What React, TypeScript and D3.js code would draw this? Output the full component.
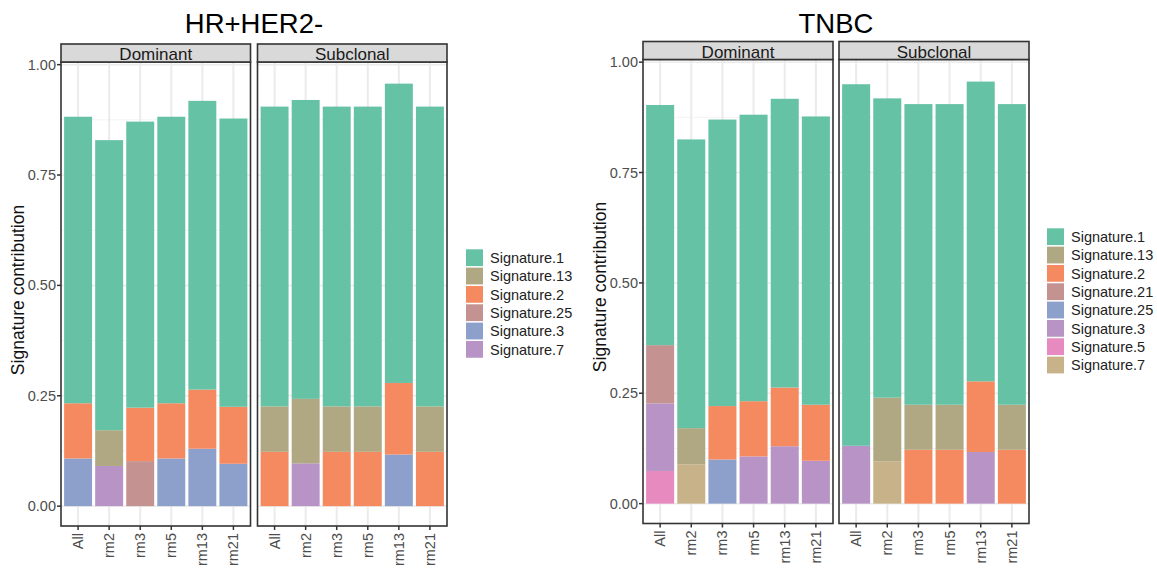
import React from 'react';
import * as d3 from 'd3';

const samples = ['All', 'rm2', 'rm3', 'rm5', 'rm13', 'rm21'];
const facets = ['Dominant', 'Subclonal'];
const yTicks = [0, 0.25, 0.5, 0.75, 1];
const yMinor = [0.125, 0.375, 0.625, 0.875];

// HR+HER2- : 12 values per signature (Dominant samples, then Subclonal samples)
const hrSignatures = ['Signature.1', 'Signature.13', 'Signature.2', 'Signature.25', 'Signature.3', 'Signature.7'];
const hrColors = ['#66C2A5', '#B0A882', '#F58A61', '#C49290', '#8CA0CB', '#B794C5'];
const hrSig1 = [0.649, 0.657, 0.648, 0.649, 0.654, 0.653, 0.679, 0.677, 0.679, 0.679, 0.678, 0.679];
const hrSig13 = [0, 0.081, 0, 0, 0, 0, 0.103, 0.146, 0.103, 0.103, 0, 0.103];
const hrSig2 = [0.125, 0, 0.121, 0.125, 0.134, 0.129, 0.123, 0, 0.123, 0.123, 0.162, 0.123];
const hrSig25 = [0, 0, 0.102, 0, 0, 0, 0, 0, 0, 0, 0, 0];
const hrSig3 = [0.108, 0, 0, 0.108, 0.13, 0.096, 0, 0, 0, 0, 0.117, 0];
const hrSig7 = [0, 0.091, 0, 0, 0, 0, 0, 0.097, 0, 0, 0, 0];

// TNBC
const tnSignatures = ['Signature.1', 'Signature.13', 'Signature.2', 'Signature.21', 'Signature.25', 'Signature.3', 'Signature.5', 'Signature.7'];
const tnColors = ['#66C2A5', '#B0A882', '#F58A61', '#C49290', '#8CA0CB', '#B794C5', '#E68AC0', '#C8B28A'];
const tnSig1 = [0.544, 0.654, 0.649, 0.649, 0.654, 0.653, 0.819, 0.678, 0.681, 0.681, 0.679, 0.681];
const tnSig13 = [0, 0.082, 0, 0, 0, 0, 0, 0.144, 0.102, 0.102, 0, 0.102];
const tnSig2 = [0, 0, 0.121, 0.125, 0.133, 0.127, 0, 0, 0.122, 0.122, 0.16, 0.122];
const tnSig21 = [0.132, 0, 0, 0, 0, 0, 0, 0, 0, 0, 0, 0];
const tnSig25 = [0, 0, 0.1, 0, 0, 0, 0, 0, 0, 0, 0, 0];
const tnSig3 = [0.153, 0, 0, 0.107, 0.13, 0.097, 0.131, 0, 0, 0, 0.117, 0];
const tnSig5 = [0.074, 0, 0, 0, 0, 0, 0, 0, 0, 0, 0, 0];
const tnSig7 = [0, 0.089, 0, 0, 0, 0, 0, 0.096, 0, 0, 0, 0];

const FONT = '"Liberation Sans", Arial, sans-serif';

interface Layout {
  panelX: number[];
  panelW: number;
  stripTop: number;
  panelTop: number;
  panelBottom: number;
  titleX: number;
  yTitleX: number;
  yTitleY: number;
  legendX: number;
  legendTop: number;
}

const hrLayout: Layout = {
  panelX: [61, 257.5], panelW: 189.5, stripTop: 44, panelTop: 62, panelBottom: 526,
  titleX: 254, yTitleX: 18, yTitleY: 290, legendX: 466, legendTop: 249.3,
};
const tnLayout: Layout = {
  panelX: [643, 839], panelW: 190, stripTop: 41.5, panelTop: 59.5, panelBottom: 523.5,
  titleX: 836, yTitleX: 600, yTitleY: 287, legendX: 1047, legendTop: 228.3,
};

interface ChartProps {
  title: string;
  signatures: string[];
  colors: string[];
  series: number[][];
  layout: Layout;
}

const Chart: React.FC<ChartProps> = ({ title, signatures, colors, series, layout: L }) => {
  const y = d3.scaleLinear().domain([-0.045, 1.006]).range([L.panelBottom, L.panelTop]);
  const color = d3.scaleOrdinal<string, string>().domain(signatures).range(colors);

  const rows = facets.map((f, fi) =>
    samples.map((s, si) => {
      const r: any = { sample: s };
      signatures.forEach((k, ki) => { r[k] = series[ki][fi * samples.length + si]; });
      return r;
    })
  );
  // first level sits on top, as ggplot stacks
  const stack = d3.stack<any>().keys([...signatures].reverse());

  return (
    <g>
      <text x={L.titleX} y={33} textAnchor="middle" fontSize={27.5} fill="#000">{title}</text>
      <text transform={`translate(${L.yTitleX},${L.yTitleY}) rotate(-90)`} textAnchor="middle"
        dominantBaseline="central" fontSize={17.5} fill="#111">Signature contribution</text>

      {facets.map((f, fi) => {
        const x0 = L.panelX[fi];
        const x = d3.scaleBand<string>().domain(samples).range([x0, x0 + L.panelW])
          .paddingInner(0.1).paddingOuter(0.1);
        const layers = stack(rows[fi]);
        return (
          <g key={f}>
            <rect x={x0} y={L.panelTop} width={L.panelW} height={L.panelBottom - L.panelTop} fill="#fff" />
            {yMinor.map(t => (
              <line key={'m' + t} x1={x0} x2={x0 + L.panelW} y1={y(t)} y2={y(t)} stroke="#f3f3f3" strokeWidth={1} />
            ))}
            {yTicks.map(t => (
              <line key={'g' + t} x1={x0} x2={x0 + L.panelW} y1={y(t)} y2={y(t)} stroke="#ebebeb" strokeWidth={1.5} />
            ))}
            {samples.map(s => (
              <line key={'v' + s} x1={x(s)! + x.bandwidth() / 2} x2={x(s)! + x.bandwidth() / 2}
                y1={L.panelTop} y2={L.panelBottom} stroke="#ebebeb" strokeWidth={2} />
            ))}
            {layers.map(layer => (
              <g key={layer.key} fill={color(layer.key)}>
                {layer.map((d, i) => d[1] - d[0] > 0 ? (
                  <rect key={i} x={x(d.data.sample)} width={x.bandwidth()}
                    y={y(d[1])} height={y(d[0]) - y(d[1])} />
                ) : null)}
              </g>
            ))}
            <rect x={x0} y={L.panelTop} width={L.panelW} height={L.panelBottom - L.panelTop}
              fill="none" stroke="#333" strokeWidth={1.6} />
            <rect x={x0} y={L.stripTop} width={L.panelW} height={L.panelTop - L.stripTop}
              fill="#d9d9d9" stroke="#333" strokeWidth={1.6} />
            <text x={x0 + L.panelW / 2} y={(L.stripTop + L.panelTop) / 2 + 1.5} textAnchor="middle"
              dominantBaseline="central" fontSize={17} fill="#1a1a1a">{f}</text>
            {samples.map(s => {
              const cx = x(s)! + x.bandwidth() / 2;
              return (
                <g key={'t' + s}>
                  <line x1={cx} x2={cx} y1={L.panelBottom} y2={L.panelBottom + 4} stroke="#333" strokeWidth={1.5} />
                  <text transform={`translate(${cx},${L.panelBottom + 7}) rotate(-90)`} textAnchor="end"
                    dominantBaseline="central" fontSize={14.5} fill="#4d4d4d">{s}</text>
                </g>
              );
            })}
            {fi === 0 && yTicks.map(t => (
              <g key={'yt' + t}>
                <line x1={x0 - 4} x2={x0} y1={y(t)} y2={y(t)} stroke="#333" strokeWidth={1.5} />
                <text x={x0 - 5} y={y(t)} textAnchor="end" dominantBaseline="central" fontSize={14.5}
                  fill="#4d4d4d">{d3.format('.2f')(t)}</text>
              </g>
            ))}
          </g>
        );
      })}

      {signatures.map((s, i) => {
        const ty = L.legendTop + i * 18.33;
        return (
          <g key={'lg' + s}>
            <rect x={L.legendX} y={ty} width={17} height={16.8} fill={color(s)} />
            <text x={L.legendX + 24} y={ty + 8.6} dominantBaseline="central" fontSize={14.5} fill="#222">{s}</text>
          </g>
        );
      })}
    </g>
  );
};

export default function App() {
  return (
    <svg width={1157} height={571} style={{ position: 'absolute', left: 0, top: 0, background: '#fff' }}
      fontFamily={FONT}>
      <rect width={1157} height={571} fill="#fff" />
      <Chart title="HR+HER2-" signatures={hrSignatures} colors={hrColors}
        series={[hrSig1, hrSig13, hrSig2, hrSig25, hrSig3, hrSig7]} layout={hrLayout} />
      <Chart title="TNBC" signatures={tnSignatures} colors={tnColors}
        series={[tnSig1, tnSig13, tnSig2, tnSig21, tnSig25, tnSig3, tnSig5, tnSig7]} layout={tnLayout} />
    </svg>
  );
}
